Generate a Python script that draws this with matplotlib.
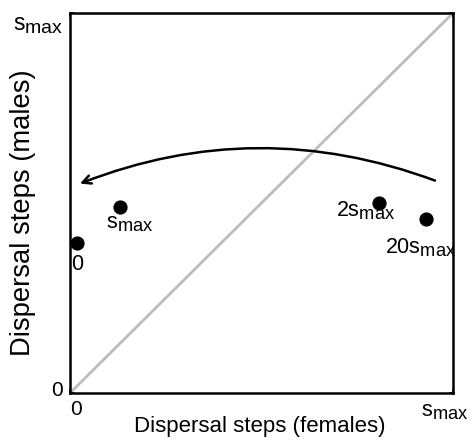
import matplotlib
matplotlib.use("Agg")
import matplotlib.pyplot as plt
import matplotlib._mathtext as _mt
from matplotlib.transforms import ScaledTranslation

_mt.SHRINK_FACTOR = 0.85

plt.rcParams['font.family'] = ['Liberation Sans', 'DejaVu Sans']
plt.rcParams['mathtext.fontset'] = 'custom'
plt.rcParams['mathtext.rm'] = 'Liberation Sans'
plt.rcParams['mathtext.it'] = 'Liberation Sans'

# data
point_labels = ['0', r'$\mathregular{s_{max}}$', r'$\mathregular{2s_{max}}$', r'$\mathregular{20s_{max}}$']
female_steps = [0.018, 0.13, 0.807, 0.93]
male_steps = [0.394, 0.49, 0.50, 0.457]
label_dx = [0.002, 0.025, -0.035, -0.015]
label_dy = [-0.055, -0.045, -0.02, -0.075]
tick_pos = [0, 1]
tick_labels = ['0', r'$\mathregular{s_{max}}$']
arrow_start = (0.953, 0.559)
arrow_end = (0.026, 0.551)

fig = plt.figure(figsize=(4.72, 4.42), dpi=100)
ax = fig.add_axes([70/472, 1-393/442, 383/472, 380/442])
ax.set_xlim(0, 1)
ax.set_ylim(0, 1)

ax.plot([0, 1], [0, 1], color='#bcbcbc', lw=2.0, zorder=1)
ax.scatter(female_steps, male_steps, s=85, color='black', zorder=3)
for x, y, t, dx, dy in zip(female_steps, male_steps, point_labels, label_dx, label_dy):
    ax.text(x + dx, y + dy, t, fontsize=15.5, ha='center', va='center')

ax.annotate('', xy=arrow_end, xytext=arrow_start,
            arrowprops=dict(arrowstyle='->,head_length=0.6,head_width=0.3', lw=1.8,
                            color='black', connectionstyle='arc3,rad=0.19',
                            shrinkA=0, shrinkB=0))

ax.set_xticks(tick_pos)
ax.set_xticklabels(tick_labels, fontsize=15)
ax.set_yticks(tick_pos)
ax.set_yticklabels(tick_labels, fontsize=15)
ax.tick_params(direction='in', length=3, width=1.2, top=True, right=True, pad=5)
for s in ax.spines.values():
    s.set_linewidth(1.8)

xl = ax.get_xticklabels()
yl = ax.get_yticklabels()
xl[1].set_fontsize(15.5)
xl[1].set_transform(xl[1].get_transform() + ScaledTranslation(-8/100, -1/100, fig.dpi_scale_trans))
xl[0].set_transform(xl[0].get_transform() + ScaledTranslation(6/100, 0, fig.dpi_scale_trans))
yl[0].set_transform(yl[0].get_transform() + ScaledTranslation(0, 4/100, fig.dpi_scale_trans))
yl[1].set_fontsize(16.5)
yl[1].set_transform(yl[1].get_transform() + ScaledTranslation(0, -9/100, fig.dpi_scale_trans))

ax.set_xlabel('Dispersal steps (females)', fontsize=16)
ax.xaxis.set_label_coords(0.496, -0.06)
ax.set_ylabel('Dispersal steps (males)', fontsize=19.7)
ax.yaxis.set_label_coords(-0.089, 0.475)

fig.savefig('out.png', dpi=100)
